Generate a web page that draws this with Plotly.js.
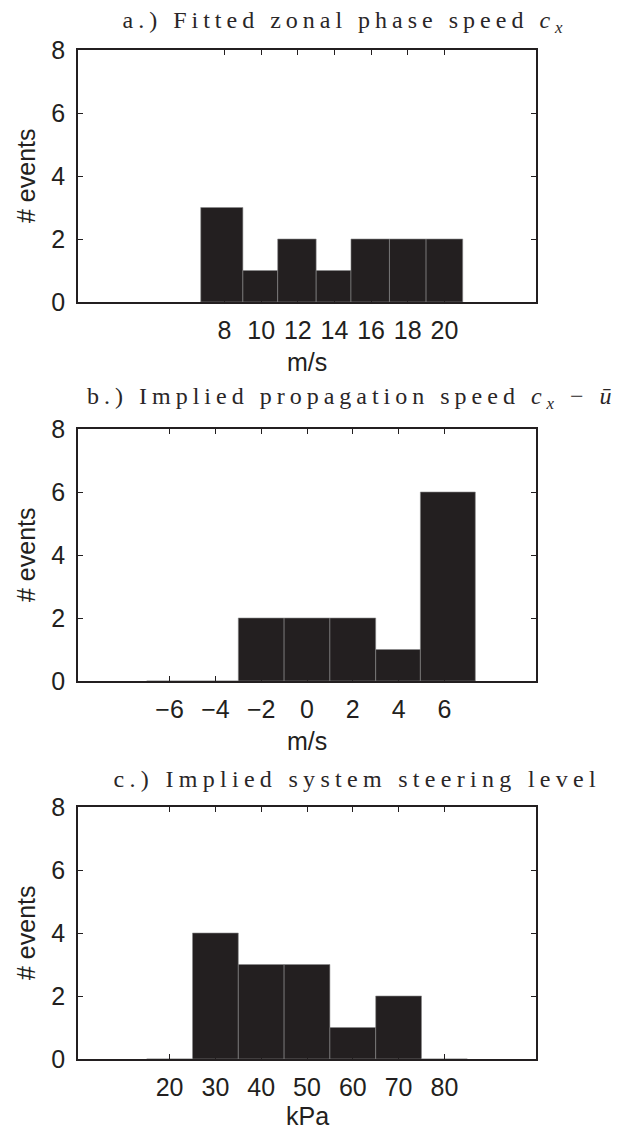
<!DOCTYPE html>
<html><head><meta charset="utf-8">
<script src="https://cdn.plot.ly/plotly-3.0.1.min.js"></script>
<style>
body{margin:0;background:#fff}
#chart{width:628px;height:1131px}
g.annotation[data-index="0"] text{letter-spacing:5px}
g.annotation[data-index="1"] text{letter-spacing:5px}
g.annotation[data-index="2"] text{letter-spacing:5.3px}
</style>
</head><body><div id="chart"></div>
<script>
// ---- data ----
// a.) Fitted zonal phase speed (m/s)
const edgesA  = [6.7, 9.0, 10.9, 13.0, 14.9, 17.0, 19.0, 21.0];
const countsA = [3, 1, 2, 1, 2, 2, 2];
const ticksA  = [8, 10, 12, 14, 16, 18, 20];
// b.) Implied propagation speed (m/s)
const edgesB  = [-7, -5, -3, -1, 1, 3, 4.95, 7.35];
const countsB = [0, 0, 2, 2, 2, 1, 6];
const ticksB  = [-6, -4, -2, 0, 2, 4, 6];
// c.) Implied system steering level (kPa)
const edgesC  = [15, 25, 35, 45, 55, 65, 75, 85];
const countsC = [0, 4, 3, 3, 1, 2, 0];
const ticksC  = [20, 30, 40, 50, 60, 70, 80];

const titles = [
  'a.) Fitted zonal phase speed <i>c</i><sub><i>x</i></sub>',
  'b.) Implied propagation speed <i>c</i><sub><i>x</i></sub> − <i>ū</i>',
  'c.) Implied system steering level'
];
const xTitles = ['m/s', 'm/s', 'kPa'];
const yTitle = '# events';

// ---- build ----
const W = 628, H = 1131;
const ink = '#231f20';
function centers(e){ return e.slice(0,-1).map((v,i)=>(v+e[i+1])/2); }
function widths(e){ return e.slice(0,-1).map((v,i)=>e[i+1]-v); }

const panels = [
  {edges: edgesA, counts: countsA, ticks: ticksA, range: [0,25],   top: 50,  bot: 302},
  {edges: edgesB, counts: countsB, ticks: ticksB, range: [-10,10], top: 429, bot: 681},
  {edges: edgesC, counts: countsC, ticks: ticksC, range: [0,100],  top: 807, bot: 1059}
];
const xL = 78, xR = 536;
const titleX = [345, 352, 357];
const titleY = [22, 398, 779];
const xTitleGap = [60, 60, 57];

const data = [];
const layout = {
  width: W, height: H,
  margin: {l:0, r:0, t:0, b:0},
  paper_bgcolor: '#fff', plot_bgcolor: '#fff',
  showlegend: false, bargap: 0,
  font: {family: 'Liberation Sans, Arial, sans-serif', size: 25, color: ink},
  annotations: []
};
panels.forEach((p, i) => {
  const s = i === 0 ? '' : String(i+1);
  data.push({
    type: 'bar', x: centers(p.edges), y: p.counts, width: widths(p.edges),
    xaxis: 'x' + s, yaxis: 'y' + s,
    marker: {color: ink, line: {color: '#8a8a8a', width: 0.6}},
    hoverinfo: 'x+y'
  });
  const yd = [1 - p.bot / H, 1 - p.top / H];
  layout['xaxis' + s] = {
    domain: [xL / W, xR / W], anchor: 'y' + s, range: p.range,
    tickmode: 'array', tickvals: p.ticks,
    ticks: 'inside', ticklen: 5, tickwidth: 1, tickcolor: ink,
    showline: true, linecolor: ink, linewidth: 1.8, mirror: 'ticks',
    showgrid: false, zeroline: false, automargin: false,
    ticklabelstandoff: 5,
    tickfont: {size: 25, color: ink}
  };
  layout['yaxis' + s] = {
    domain: yd, anchor: 'x' + s, range: [0, 8],
    tickmode: 'array', tickvals: [0, 2, 4, 6, 8],
    ticks: 'inside', ticklen: 5, tickwidth: 1, tickcolor: ink,
    showline: true, linecolor: ink, linewidth: 1.8, mirror: 'ticks',
    showgrid: false, zeroline: false, automargin: false,
    ticklabelstandoff: 6,
    tickfont: {size: 25, color: ink}
  };
});
// panel titles (indices 0..2 get letter-spacing via CSS)
panels.forEach((p, i) => {
  layout.annotations.push({
    xref: 'paper', yref: 'paper', x: titleX[i] / W, y: 1 - titleY[i] / H,
    xanchor: 'center', yanchor: 'middle', showarrow: false, text: titles[i],
    font: {family: 'Liberation Serif, Times New Roman, serif', size: 24, color: '#2a2627'}
  });
});
panels.forEach((p, i) => {
  layout.annotations.push({
    xref: 'paper', yref: 'paper', x: (xL + xR) / 2 / W, y: 1 - (p.bot + xTitleGap[i]) / H,
    xanchor: 'center', yanchor: 'middle', showarrow: false, text: xTitles[i],
    font: {size: 25, color: ink}
  });
  layout.annotations.push({
    xref: 'paper', yref: 'paper', x: 26 / W, y: 1 - (p.top + p.bot) / 2 / H,
    xanchor: 'center', yanchor: 'middle', showarrow: false, text: yTitle,
    textangle: -90, font: {size: 25, color: ink}
  });
});

Plotly.newPlot('chart', data, layout, {staticPlot: true});
</script>
</body></html>
